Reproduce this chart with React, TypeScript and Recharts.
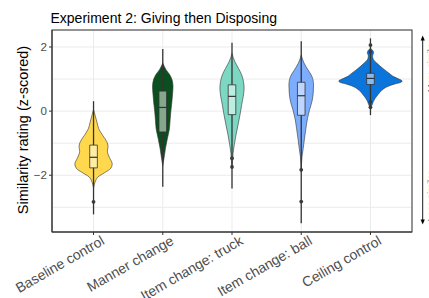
import React from "react";
import { ComposedChart, Area, Line, XAxis, YAxis, CartesianGrid } from "recharts";

const categories = ["Baseline control", "Manner change", "Item change: truck", "Item change: ball", "Ceiling control"];
const violinColors = ["#FFD84E", "#0A4F1E", "#7DD8C3", "#7CADFF", "#0C75DB"];
const boxColors = ["#FFEDA6", "#85A78E", "#BEECE1", "#BED6FF", "#86BAED"];

// [rating, violin half-width (density, in category units)]
const baselineViolin: [number, number][] = [
  [0.05, 0], [-0.15, 0.025], [-0.35, 0.05], [-0.55, 0.075], [-0.75, 0.13], [-0.95, 0.19], [-1.1, 0.21],
  [-1.25, 0.2], [-1.45, 0.23], [-1.65, 0.27], [-1.78, 0.25], [-1.92, 0.16], [-2.05, 0.065], [-2.17, 0.03],
  [-2.3, 0.01], [-2.4, 0],
];
const mannerViolin: [number, number][] = [
  [1.5, 0], [1.3, 0.045], [1.12, 0.105], [0.97, 0.135], [0.76, 0.148], [0.5, 0.14], [0.25, 0.13],
  [-0.02, 0.116], [-0.28, 0.106], [-0.55, 0.096], [-0.84, 0.068], [-1.16, 0.039], [-1.47, 0.018], [-1.7, 0],
];
const truckViolin: [number, number][] = [
  [1.8, 0], [1.55, 0.04], [1.34, 0.092], [1.13, 0.14], [0.93, 0.165], [0.72, 0.175], [0.46, 0.163],
  [0.2, 0.14], [-0.11, 0.116], [-0.43, 0.087], [-0.74, 0.058], [-1.05, 0.033], [-1.31, 0.016],
  [-1.55, 0.008], [-1.76, 0],
];
const ballViolin: [number, number][] = [
  [1.75, 0], [1.5, 0.04], [1.29, 0.097], [1.08, 0.155], [0.82, 0.178], [0.56, 0.173], [0.3, 0.155],
  [0.04, 0.12], [-0.22, 0.091], [-0.53, 0.068], [-0.84, 0.048], [-1.16, 0.029], [-1.41, 0.012],
  [-1.65, 0.004], [-1.85, 0],
];
const ceilingViolin: [number, number][] = [
  [1.96, 0], [1.9, 0.03], [1.82, 0.045], [1.72, 0.03], [1.62, 0.04], [1.49, 0.095], [1.33, 0.18],
  [1.18, 0.27], [1.07, 0.34], [1.0, 0.41], [0.94, 0.458], [0.89, 0.43], [0.84, 0.34], [0.76, 0.24],
  [0.64, 0.16], [0.52, 0.11], [0.4, 0.068], [0.29, 0.04], [0.2, 0.025], [0.1, 0],
];
const violins = [baselineViolin, mannerViolin, truckViolin, ballViolin, ceilingViolin];

const boxQ1 = [-1.77, -0.65, -0.11, -0.13, 0.83];
const boxMedian = [-1.44, 0.115, 0.46, 0.48, 1.02];
const boxQ3 = [-1.06, 0.625, 0.82, 0.9, 1.18];
const rangeLow = [-3.22, -2.36, -2.41, -3.5, -0.125];
const rangeHigh = [0.31, 1.94, 2.13, 2.18, 2.27];
const outliers: number[][] = [[-2.83], [], [-1.47, -1.74], [-1.83, -2.82], [2.06, 1.85, 0.29, 0.12]];

const yTicks = [-3, -2, -1, 0, 1, 2];
const yMajor = [-2, 0, 2];
const xTicks = [1, 2, 3, 4, 5];
const boxHalf = 0.055;

const FONT = "'Liberation Sans', Arial, Helvetica, sans-serif";

const XTick = (props: any) => {
  const { x, y, payload } = props;
  const label = categories[Math.round(payload.value) - 1] ?? "";
  const ax = x + 12;
  const ay = y + 6.5;
  return (
    <text x={ax} y={ay} textAnchor="end" transform={`rotate(-30, ${ax}, ${ay})`} fontSize={14} fill="#4D4D4D" fontFamily={FONT}>
      {label}
    </text>
  );
};

const YTick = (props: any) => {
  const { x, y, payload } = props;
  if (!yMajor.includes(payload.value)) return <g />;
  const txt = payload.value < 0 ? `\u2212${Math.abs(payload.value)}` : `${payload.value}`;
  return (
    <g>
      <line x1={x + 2} x2={x + 5} y1={y} y2={y} stroke="#333" strokeWidth={1} />
      <text x={x} y={y} dy="0.36em" textAnchor="end" fontSize={11.6} fill="#4D4D4D" fontFamily={FONT}>
        {txt}
      </text>
    </g>
  );
};

export default function App() {
  const series: React.ReactNode[] = [];
  violins.forEach((v, i) => {
    const pos = i + 1;
    const data = [...v].sort((a, b) => a[0] - b[0]).map(([y, w]) => ({ y, r: [pos - w, pos + w] }));
    series.push(
      <Area key={`v${i}`} data={data} dataKey="r" type="monotone" fill={violinColors[i]} fillOpacity={1}
        stroke="#333" strokeWidth={0.6} isAnimationActive={false} dot={false} activeDot={false} />
    );
  });
  categories.forEach((_, i) => {
    const pos = i + 1;
    series.push(
      <Line key={`wl${i}`} data={[{ y: rangeLow[i], v: pos }, { y: boxQ1[i], v: pos }]} dataKey="v" type="linear"
        stroke="#333" strokeWidth={1.3} dot={false} activeDot={false} isAnimationActive={false} />,
      <Line key={`wh${i}`} data={[{ y: boxQ3[i], v: pos }, { y: rangeHigh[i], v: pos }]} dataKey="v" type="linear"
        stroke="#333" strokeWidth={1.3} dot={false} activeDot={false} isAnimationActive={false} />
    );
  });
  categories.forEach((_, i) => {
    const pos = i + 1;
    series.push(
      <Area key={`bf${i}`} data={[{ y: boxQ1[i], r: [pos - boxHalf, pos + boxHalf] }, { y: boxQ3[i], r: [pos - boxHalf, pos + boxHalf] }]}
        dataKey="r" type="linear" fill={boxColors[i]} fillOpacity={1} stroke="none" isAnimationActive={false} dot={false} activeDot={false} />
    );
  });
  categories.forEach((_, i) => {
    const pos = i + 1;
    series.push(
      <Line key={`bo${i}`} data={[
        { y: boxQ1[i], v: pos - boxHalf }, { y: boxQ3[i], v: pos - boxHalf }, { y: boxQ3[i], v: pos + boxHalf },
        { y: boxQ1[i], v: pos + boxHalf }, { y: boxQ1[i], v: pos - boxHalf },
      ]} dataKey="v" type="linear" stroke="#333" strokeWidth={0.8} dot={false} activeDot={false} isAnimationActive={false} />,
      <Line key={`md${i}`} data={[{ y: boxMedian[i], v: pos - boxHalf }, { y: boxMedian[i], v: pos + boxHalf }]}
        dataKey="v" type="linear" stroke="#333" strokeWidth={1.2} dot={false} activeDot={false} isAnimationActive={false} />
    );
    if (outliers[i].length) {
      series.push(
        <Line key={`o${i}`} data={outliers[i].map((y) => ({ y, v: pos }))} dataKey="v" stroke="none"
          dot={{ r: 1.9, fill: "#3A3A3A", stroke: "none" }} activeDot={false} isAnimationActive={false} />
      );
    }
  });

  return (
    <div style={{ position: "absolute", left: 0, top: 0, width: 429, height: 298, background: "#fff", fontFamily: FONT }}>
      <ComposedChart layout="vertical" width={429} height={298} margin={{ top: 30, right: 17, bottom: 6, left: 0 }}>
        <CartesianGrid stroke="#EBEBEB" strokeWidth={1} />
        <XAxis type="number" domain={[0.4, 5.6]} ticks={xTicks} allowDataOverflow interval={0} height={60}
          tickSize={3} tickMargin={2} stroke="#333" tick={<XTick />} />
        <YAxis type="number" dataKey="y" domain={[-3.77, 2.53]} ticks={yTicks} allowDataOverflow interval={0} width={52}
          reversed tickSize={3} tickMargin={2} tickLine={false} stroke="#333" tick={<YTick />} />
        {series}
      </ComposedChart>
      <svg width={429} height={298} style={{ position: "absolute", left: 0, top: 0, pointerEvents: "none" }}>
        <rect x={52} y={30} width={360} height={202} fill="none" stroke="#333" strokeWidth={1} />
        <text x={50.5} y={22.7} fontSize={14} fill="#000" fontFamily={FONT}>Experiment 2: Giving then Disposing</text>
        <text transform="translate(27.5,130) rotate(-90)" textAnchor="middle" fontSize={14.5} fill="#000" fontFamily={FONT}>
          Similarity rating (z-scored)
        </text>
        <line x1={422.7} x2={422.7} y1={39} y2={221} stroke="#000" strokeWidth={0.9} />
        <polygon points="422.7,35.5 420.6,40.5 424.8,40.5" fill="#000" />
        <polygon points="422.7,224.5 420.6,219.5 424.8,219.5" fill="#000" />
        <text transform="translate(433.5,66.5) rotate(-90)" textAnchor="middle" fontSize={9.5} fill="#777" fontFamily={FONT}>More similar</text>
        <text transform="translate(433.5,196.5) rotate(-90)" textAnchor="middle" fontSize={9.5} fill="#777" fontFamily={FONT}>Less similar</text>
      </svg>
    </div>
  );
}
